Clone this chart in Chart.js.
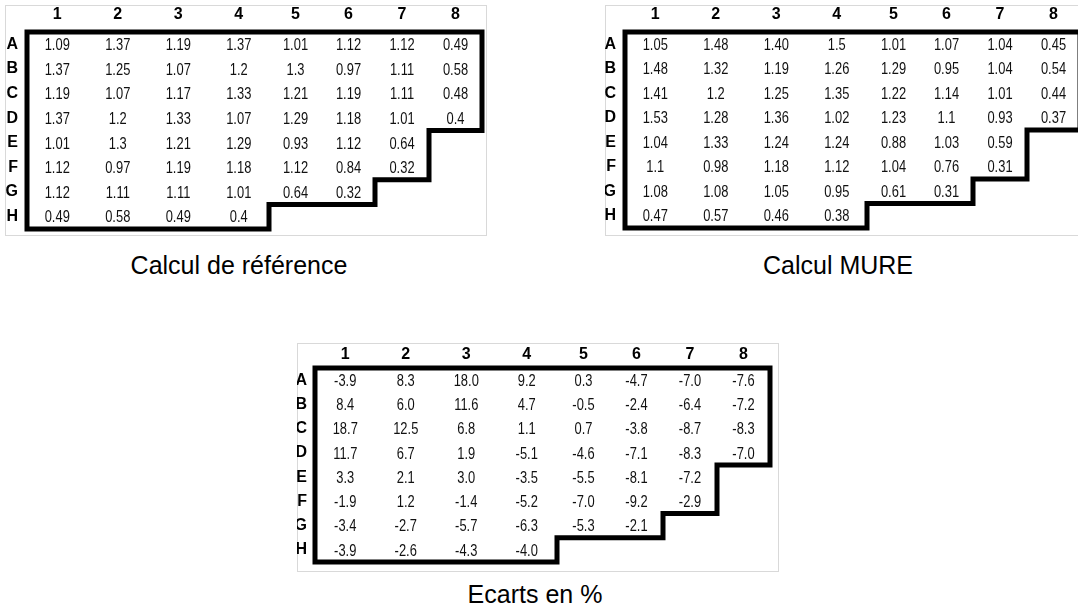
<!DOCTYPE html>
<html>
<head>
<meta charset="utf-8">
<script src="https://cdn.jsdelivr.net/npm/chart.js@4.4.1/dist/chart.umd.min.js"></script>
<style>
  html, body { margin: 0; padding: 0; background: #fff; overflow: hidden; }
  body { width: 1078px; height: 611px; position: relative; }
  .frame { position: absolute; box-sizing: border-box; border: 1px solid #d9d9d9; }
  .frame canvas { position: absolute; left: -1px; top: -1px; }
  .caption { position: absolute; width: 400px; text-align: center; font: 25px 'Liberation Sans', Arial, sans-serif; line-height: 30px; color: #000; }
</style>
</head>
<body>
<div class="frame" id="f1"><canvas id="t1"></canvas></div>
<div class="frame" id="f2"><canvas id="t2"></canvas></div>
<div class="frame" id="f3"><canvas id="t3"></canvas></div>
<div class="caption" id="c1"></div>
<div class="caption" id="c2"></div>
<div class="caption" id="c3"></div>
<script>
const rowLabels = ['A', 'B', 'C', 'D', 'E', 'F', 'G', 'H']
const colLabels = ['1', '2', '3', '4', '5', '6', '7', '8']

// values kept as text so they print the way the sheet shows them
const referenceValues = [
    ['1.09', '1.37', '1.19', '1.37', '1.01', '1.12', '1.12', '0.49'],
    ['1.37', '1.25', '1.07', '1.2', '1.3', '0.97', '1.11', '0.58'],
    ['1.19', '1.07', '1.17', '1.33', '1.21', '1.19', '1.11', '0.48'],
    ['1.37', '1.2', '1.33', '1.07', '1.29', '1.18', '1.01', '0.4'],
    ['1.01', '1.3', '1.21', '1.29', '0.93', '1.12', '0.64'],
    ['1.12', '0.97', '1.19', '1.18', '1.12', '0.84', '0.32'],
    ['1.12', '1.11', '1.11', '1.01', '0.64', '0.32'],
    ['0.49', '0.58', '0.49', '0.4']
]
const mureValues = [
    ['1.05', '1.48', '1.40', '1.5', '1.01', '1.07', '1.04', '0.45'],
    ['1.48', '1.32', '1.19', '1.26', '1.29', '0.95', '1.04', '0.54'],
    ['1.41', '1.2', '1.25', '1.35', '1.22', '1.14', '1.01', '0.44'],
    ['1.53', '1.28', '1.36', '1.02', '1.23', '1.1', '0.93', '0.37'],
    ['1.04', '1.33', '1.24', '1.24', '0.88', '1.03', '0.59'],
    ['1.1', '0.98', '1.18', '1.12', '1.04', '0.76', '0.31'],
    ['1.08', '1.08', '1.05', '0.95', '0.61', '0.31'],
    ['0.47', '0.57', '0.46', '0.38']
]
const ecartValues = [
    ['-3.9', '8.3', '18.0', '9.2', '0.3', '-4.7', '-7.0', '-7.6'],
    ['8.4', '6.0', '11.6', '4.7', '-0.5', '-2.4', '-6.4', '-7.2'],
    ['18.7', '12.5', '6.8', '1.1', '0.7', '-3.8', '-8.7', '-8.3'],
    ['11.7', '6.7', '1.9', '-5.1', '-4.6', '-7.1', '-8.3', '-7.0'],
    ['3.3', '2.1', '3.0', '-3.5', '-5.5', '-8.1', '-7.2'],
    ['-1.9', '1.2', '-1.4', '-5.2', '-7.0', '-9.2', '-2.9'],
    ['-3.4', '-2.7', '-5.7', '-6.3', '-5.3', '-2.1'],
    ['-3.9', '-2.6', '-4.3', '-4.0']
]
const captions = ['Calcul de référence', 'Calcul MURE', 'Ecarts en %']

// spreadsheet column widths (first four columns are wider)
const colWidths = [60.5, 60.5, 60.5, 60.5, 53, 53, 54, 53]
const colEdges = [0]
colWidths.forEach(w => colEdges.push(colEdges[colEdges.length - 1] + w))
const colCenters = colWidths.map((w, i) => colEdges[i] + w / 2)

const headFont = { family: "'Liberation Sans Narrow', 'Arial Narrow', 'Liberation Sans', Arial, sans-serif", size: 16, weight: 'bold' }

// draws each cell value at its point, squeezed like the narrow font of the sheet
const cellText = {
    id: 'cellText',
    afterDatasetsDraw(chart) {
        const ctx = chart.ctx
        const meta = chart.getDatasetMeta(0)
        const data = chart.data.datasets[0].data
        ctx.save()
        ctx.font = "17px 'Liberation Sans', Arial, sans-serif"
        ctx.fillStyle = '#111'
        ctx.textAlign = 'center'
        ctx.textBaseline = 'middle'
        meta.data.forEach((pt, i) => {
            ctx.save()
            ctx.translate(pt.x, pt.y + 1)
            ctx.scale(0.76, 1)
            ctx.fillText(data[i].label, 0, 0)
            ctx.restore()
        })
        ctx.restore()
    }
}

// thick staircase outline following the row lengths
const stairBorder = {
    id: 'stairBorder',
    afterDraw(chart) {
        const xs = chart.scales.x
        const ys = chart.scales.y
        const lens = chart.data.datasets[0].rowLengths
        const xp = n => xs.getPixelForValue(colEdges[n])
        const yp = v => ys.getPixelForValue(v)
        const ctx = chart.ctx
        ctx.save()
        ctx.strokeStyle = '#000'
        ctx.lineWidth = 5
        ctx.lineJoin = 'miter'
        ctx.beginPath()
        ctx.moveTo(xp(0), yp(0.5))
        ctx.lineTo(xp(lens[0]), yp(0.5))
        for (let r = 0; r < lens.length; r++) {
            ctx.lineTo(xp(lens[r]), yp(r + 1.5))
            if (r < lens.length - 1 && lens[r + 1] !== lens[r]) {
                ctx.lineTo(xp(lens[r + 1]), yp(r + 1.5))
            }
        }
        ctx.lineTo(xp(0), yp(lens.length + 0.5))
        ctx.closePath()
        ctx.stroke()
        ctx.restore()
    }
}

function makeTable(frameId, canvasId, values, box){
    const frame = document.getElementById(frameId)
    frame.style.left = box.x + 'px'
    frame.style.top = box.y + 'px'
    frame.style.width = box.w + 'px'
    frame.style.height = box.h + 'px'
    const canvas = document.getElementById(canvasId)
    canvas.width = box.w
    canvas.height = box.h

    let points = []
    values.forEach((row, r) => {
        row.forEach((txt, c) => {
            points.push({ x: colCenters[c], y: r + 1, v: parseFloat(txt), label: txt })
        })
    })

    return new Chart(canvas.getContext('2d'), {
        type: 'scatter',
        data: {
            datasets: [{
                data: points,
                rowLengths: values.map(row => row.length),
                pointRadius: 0,
                pointHoverRadius: 0
            }]
        },
        options: {
            responsive: false,
            animation: false,
            events: [],
            layout: { padding: { left: 0, top: 0, right: box.padRight, bottom: box.padBottom } },
            plugins: { legend: { display: false }, tooltip: { enabled: false } },
            scales: {
                x: {
                    type: 'linear',
                    position: 'top',
                    min: 0,
                    max: colEdges[colEdges.length - 1],
                    grid: { display: false, drawTicks: false },
                    border: { display: false },
                    afterBuildTicks: s => { s.ticks = colCenters.map(v => ({ value: v })) },
                    afterFit: s => {
                        s.height = box.areaTop
                        s.paddingLeft = 0
                        s.paddingRight = 0
                    },
                    ticks: {
                        callback: (v, i) => colLabels[i],
                        font: headFont,
                        color: '#000',
                        padding: box.xPad,
                        maxRotation: 0,
                        autoSkip: false
                    }
                },
                y: {
                    type: 'linear',
                    reverse: true,
                    min: 0.5,
                    max: 8.5,
                    grid: { display: false, drawTicks: false },
                    border: { display: false },
                    afterBuildTicks: s => { s.ticks = rowLabels.map((c, i) => ({ value: i + 1 })) },
                    afterFit: s => {
                        s.width = box.areaLeft
                        s.paddingTop = 0
                        s.paddingBottom = 0
                    },
                    ticks: {
                        callback: v => rowLabels[v - 1],
                        font: headFont,
                        color: '#000',
                        padding: box.yPad,
                        autoSkip: false
                    }
                }
            }
        },
        plugins: [cellText, stairBorder]
    })
}

makeTable('f1', 't1', referenceValues, { x: 5, y: 5, w: 482, h: 231, areaLeft: 22, areaTop: 27, padRight: 5, padBottom: 7, xPad: 8, yPad: 9 })
makeTable('f2', 't2', mureValues, { x: 605, y: 5, w: 482, h: 231, areaLeft: 20, areaTop: 27, padRight: 7, padBottom: 8, xPad: 8, yPad: 9 })
makeTable('f3', 't3', ecartValues, { x: 297, y: 343, w: 482, h: 229, areaLeft: 18, areaTop: 25, padRight: 9, padBottom: 10, xPad: 4, yPad: 8 })

const captionPos = [[239, 250], [838, 250], [535, 579]]
captions.forEach((txt, i) => {
    const el = document.getElementById('c' + (i + 1))
    el.textContent = txt
    el.style.left = (captionPos[i][0] - 200) + 'px'
    el.style.top = captionPos[i][1] + 'px'
})
</script>
</body>
</html>
